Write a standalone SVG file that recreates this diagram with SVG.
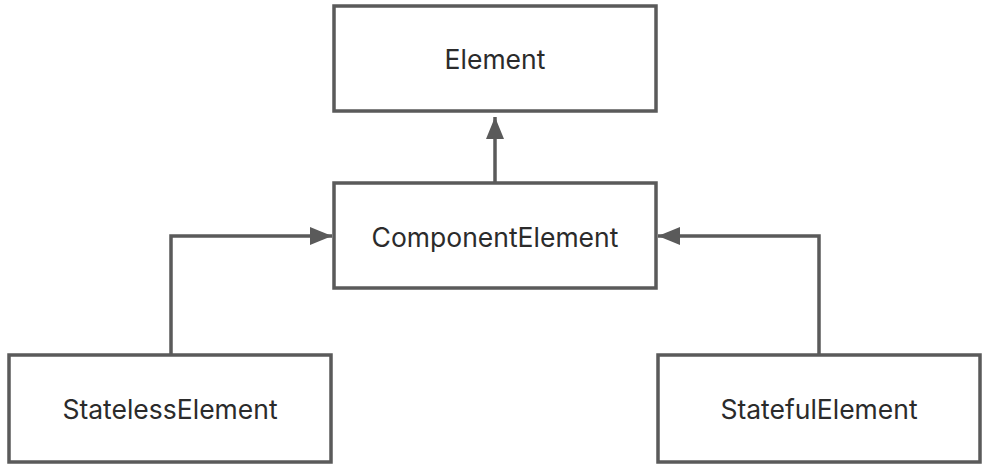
<svg xmlns="http://www.w3.org/2000/svg" width="994" height="468" viewBox="0 0 994 468">
<style>
.box{fill:#fff;stroke:#5a5a5a;stroke-width:3.5}
.lbl{font-family:"Inter","Liberation Sans",sans-serif;font-size:26.5px;fill:#2b2b2b;text-anchor:middle;dominant-baseline:central}
.conn{fill:none;stroke:#5a5a5a;stroke-width:3.5}
</style>
<defs>
<marker id="arr" markerUnits="userSpaceOnUse" markerWidth="24" markerHeight="18" refX="22" refY="9" orient="auto">
<path d="M0,0 L22,9 L0,18 z" fill="#5a5a5a"/>
</marker>
</defs>
<rect width="994" height="468" fill="#fff"/>
<g id="connectors">
<path class="conn" d="M495,183 L495,117" marker-end="url(#arr)"/>
<path class="conn" d="M171,355 L171,236 L332,236" marker-end="url(#arr)"/>
<path class="conn" d="M819,355 L819,236 L658,236" marker-end="url(#arr)"/>
</g>
<g id="element">
<rect class="box" x="334" y="6" width="322" height="105"/>
<text class="lbl" x="495" y="59">Element</text>
</g>
<g id="componentElement">
<rect class="box" x="334" y="183" width="322" height="105"/>
<text class="lbl" x="495" y="237">ComponentElement</text>
</g>
<g id="statelessElement">
<rect class="box" x="9" y="355" width="322" height="107"/>
<text class="lbl" x="170" y="409">StatelessElement</text>
</g>
<g id="statefulElement">
<rect class="box" x="658" y="355" width="322" height="107"/>
<text class="lbl" x="819" y="409">StatefulElement</text>
</g>
</svg>
